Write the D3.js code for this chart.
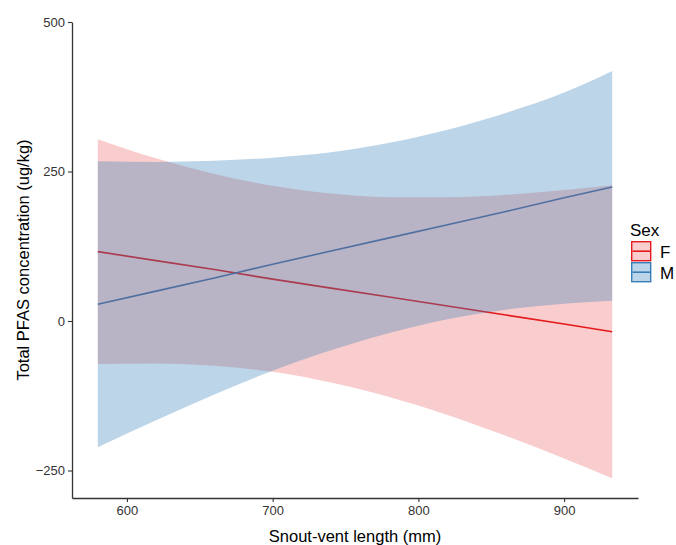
<!DOCTYPE html>
<html>
<head>
<meta charset="utf-8">
<script src="https://cdn.jsdelivr.net/npm/d3@7"></script>
<style>
  body { margin: 0; background: #fff; }
  text { font-family: "Liberation Sans", Arial, sans-serif; }
</style>
</head>
<body>
<div id="chart"></div>
<script>
// Valores (comprimento rostro-cloacal em mm)
const svlPoints = [580, 620, 660, 700, 740, 780, 820, 860, 900, 933];

// Fêmeas (F): reta ajustada e limites do intervalo de confiança
const femaleFit   = [116, 101, 86, 70, 55, 40, 25, 10, -5, -18];
const femaleUpper = [304, 272, 246, 226, 213, 207, 207, 211, 219, 227];
const femaleLower = [-72, -71, -75, -85, -103, -127, -157, -192, -230, -263];

// Machos (M)
const maleFit   = [28, 50, 72, 95, 117, 139, 161, 183, 206, 224];
const maleUpper = [267, 266, 268, 273, 282, 298, 320, 348, 382, 418];
const maleLower = [-211, -166, -123, -83, -49, -20, 3, 19, 29, 34];

const xTicks = [600, 700, 800, 900];
const yTicks = [-250, 0, 250, 500];
const sexes = ["F", "M"];

const width = 676, height = 545;
const margin = { top: 22, right: 38, bottom: 47, left: 72 };

const svg = d3.select("#chart")
    .append("svg")
    .attr("width", width)
    .attr("height", height);

// Escalas (com expansão de 5% como no ggplot)
const x = d3.scaleLinear()
    .domain([562.3, 950.7])
    .range([margin.left, width - margin.right]);

const y = d3.scaleLinear()
    .domain([-296, 500])
    .range([height - margin.bottom, margin.top]);

const series = [
    { sex: "F", color: "#E41A1C", alpha: 0.22, fit: femaleFit, upper: femaleUpper, lower: femaleLower },
    { sex: "M", color: "#377EB8", alpha: 0.33, fit: maleFit, upper: maleUpper, lower: maleLower }
];

const area = d3.area()
    .x((d, i) => x(svlPoints[i]))
    .y0(d => y(d[0]))
    .y1(d => y(d[1]))
    .curve(d3.curveMonotoneX);

const line = d3.line()
    .x((d, i) => x(svlPoints[i]))
    .y(d => y(d));

// Linhas primeiro, faixas por cima (assim as linhas ficam "tingidas")
svg.append("g")
    .selectAll("path")
    .data(series)
    .join("path")
    .attr("d", d => line(d.fit))
    .attr("fill", "none")
    .attr("stroke", d => d.color)
    .attr("stroke-width", 1.6);

svg.append("g")
    .selectAll("path")
    .data(series)
    .join("path")
    .attr("d", d => area(d.lower.map((v, i) => [v, d.upper[i]])))
    .attr("fill", d => d.color)
    .attr("fill-opacity", d => d.alpha);

// Eixos (sem ticks externos)
const xAxis = svg.append("g")
    .attr("transform", `translate(0,${height - margin.bottom})`)
    .call(d3.axisBottom(x).tickValues(xTicks).tickSizeInner(4).tickSizeOuter(0).tickPadding(4));

const yAxis = svg.append("g")
    .attr("transform", `translate(${margin.left},0)`)
    .call(d3.axisLeft(y).tickValues(yTicks).tickSizeInner(4).tickSizeOuter(0).tickPadding(3)
        .tickFormat(d => d < 0 ? "\u2212" + Math.abs(d) : d));

[xAxis, yAxis].forEach(ax => {
    ax.select(".domain").attr("stroke", "#333").attr("stroke-width", 1.3);
    ax.selectAll(".tick line").attr("stroke", "#333").attr("stroke-width", 1.1);
    ax.selectAll(".tick text")
        .attr("fill", "#333")
        .style("font-size", "13px")
        .style("font-family", "'Liberation Sans', Arial, sans-serif");
});

// Títulos dos eixos
svg.append("text")
    .attr("x", (margin.left + width - margin.right) / 2)
    .attr("y", 542)
    .attr("text-anchor", "middle")
    .style("font-size", "16.5px")
    .text("Snout-vent length (mm)");

svg.append("text")
    .attr("transform", `translate(29,${(margin.top + height - margin.bottom) / 2}) rotate(-90)`)
    .attr("text-anchor", "middle")
    .style("font-size", "16.5px")
    .text("Total PFAS concentration (ug/kg)");

// Legenda
const legend = svg.append("g").attr("transform", "translate(631,0)");

legend.append("text")
    .attr("x", -1)
    .attr("y", 236)
    .style("font-size", "17px")
    .text("Sex");

const keys = legend.selectAll("g.key")
    .data(series)
    .join("g")
    .attr("class", "key")
    .attr("transform", (d, i) => `translate(0,${241 + i * 21})`);

keys.append("rect")
    .attr("x", 0.7)
    .attr("y", 0.7)
    .attr("width", 19)
    .attr("height", 19)
    .attr("fill", d => d.color)
    .attr("fill-opacity", d => d.alpha)
    .attr("stroke", d => d.color)
    .attr("stroke-width", 1.4);

keys.append("line")
    .attr("x1", 1.5)
    .attr("x2", 19)
    .attr("y1", 10.2)
    .attr("y2", 10.2)
    .attr("stroke", d => d.color)
    .attr("stroke-width", 1.6);

keys.append("text")
    .attr("x", 29)
    .attr("y", 16.5)
    .style("font-size", "17px")
    .text(d => d.sex);
</script>
</body>
</html>
